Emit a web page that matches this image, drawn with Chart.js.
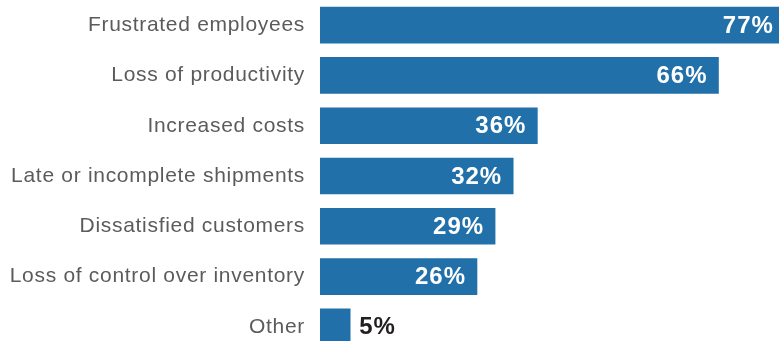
<!DOCTYPE html>
<html>
<head>
<meta charset="utf-8">
<style>
  html, body { margin: 0; padding: 0; background: #fff; overflow: hidden; }
  canvas { display: block; }
</style>
</head>
<body>
<canvas id="myChart" width="803" height="352"></canvas>

<script src="https://cdn.jsdelivr.net/npm/chart.js"></script>
<script>
  const categories = [
    'Frustrated employees',
    'Loss of productivity',
    'Increased costs',
    'Late or incomplete shipments',
    'Dissatisfied customers',
    'Loss of control over inventory',
    'Other'
  ];
  const shares = [77, 66, 36, 32, 29, 26, 5];
  const valueLabels = ['77%', '66%', '36%', '32%', '29%', '26%', '5%'];

  const barColor = '#2270a9';

  // a bit of tracking so the category names read wide
  const letterSpacingPlugin = {
    id: 'letterSpacing',
    beforeDraw(chart) {
      chart.ctx.letterSpacing = '0.7px';
    }
  };

  // percent labels: white inside the bar, dark just past the end for short bars
  const valueLabelPlugin = {
    id: 'valueLabels',
    afterDatasetsDraw(chart) {
      const ctx = chart.ctx;
      const meta = chart.getDatasetMeta(0);
      ctx.save();
      ctx.letterSpacing = '1px';
      ctx.font = 'bold 24px "Liberation Sans", Arial, sans-serif';
      ctx.textBaseline = 'middle';
      meta.data.forEach((bar, i) => {
        const y = bar.y + 1;
        if (shares[i] < 10) {
          ctx.fillStyle = '#231f20';
          ctx.textAlign = 'left';
          ctx.fillText(valueLabels[i], bar.x + 9, y);
        } else {
          ctx.fillStyle = '#ffffff';
          ctx.textAlign = 'right';
          ctx.fillText(valueLabels[i], bar.x - 11, y);
        }
      });
      ctx.restore();
    }
  };

  new Chart(document.getElementById('myChart').getContext('2d'), {
    type: 'bar',
    data: {
      labels: categories,
      datasets: [{
        data: shares,
        backgroundColor: barColor,
        borderWidth: 0,
        barThickness: 36
      }]
    },
    options: {
      indexAxis: 'y',
      responsive: false,
      animation: false,
      layout: { padding: 0 },
      plugins: {
        legend: { display: false },
        tooltip: { enabled: false }
      },
      scales: {
        x: {
          display: false,
          min: 0,
          max: 80
        },
        y: {
          grid: { display: false, drawTicks: false },
          border: { display: false },
          ticks: {
            color: '#5b5b5b',
            padding: 15,
            font: { family: '"Liberation Sans", Arial, sans-serif', size: 21 }
          },
          afterFit(scale) {
            scale.width = 320;
            scale.paddingTop = 0;
            scale.paddingBottom = 0;
          }
        }
      }
    },
    plugins: [letterSpacingPlugin, valueLabelPlugin]
  });
</script>
</body>
</html>
